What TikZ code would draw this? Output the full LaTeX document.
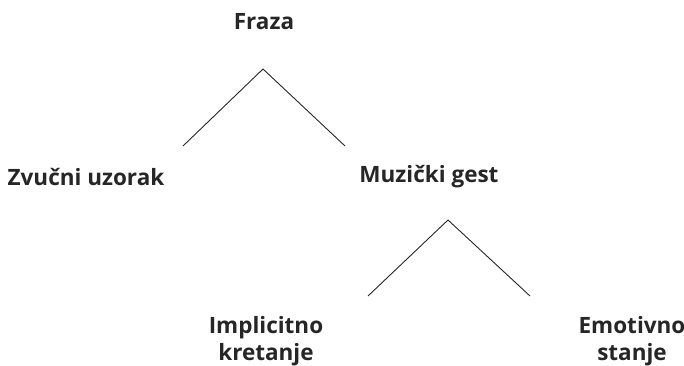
\documentclass[tikz,border=0pt]{standalone}
\usepackage{fontspec}
\setmainfont{Open Sans}
\begin{document}
\begin{tikzpicture}[x=1pt,y=-1pt,
  lbl/.style={font=\bfseries\fontsize{22.5}{27}\selectfont, text=black!85, align=center, inner sep=0pt},
  edge/.style={line width=0.9pt, black!85}]
\useasboundingbox (0,0) rectangle (684,366);
\node[lbl] (fraza) at (264,22) {Fraza};
\node[lbl] (zvuk) at (86,177) {Zvučni uzorak};
\node[lbl] (gest) at (429,177) {Muzički gest};
\node[lbl] (impl) at (266,341) {Implicitno\\kretanje};
\node[lbl] (emo) at (632,341) {Emotivno\\stanje};
\coordinate (a1) at (263,69);
\coordinate (l1) at (183,146);
\coordinate (r1) at (345,146);
\coordinate (a2) at (448,220);
\coordinate (l2) at (368,296);
\coordinate (r2) at (530,296);
\draw[edge] (l1) -- (a1) -- (r1);
\draw[edge] (l2) -- (a2) -- (r2);
\end{tikzpicture}
\end{document}
